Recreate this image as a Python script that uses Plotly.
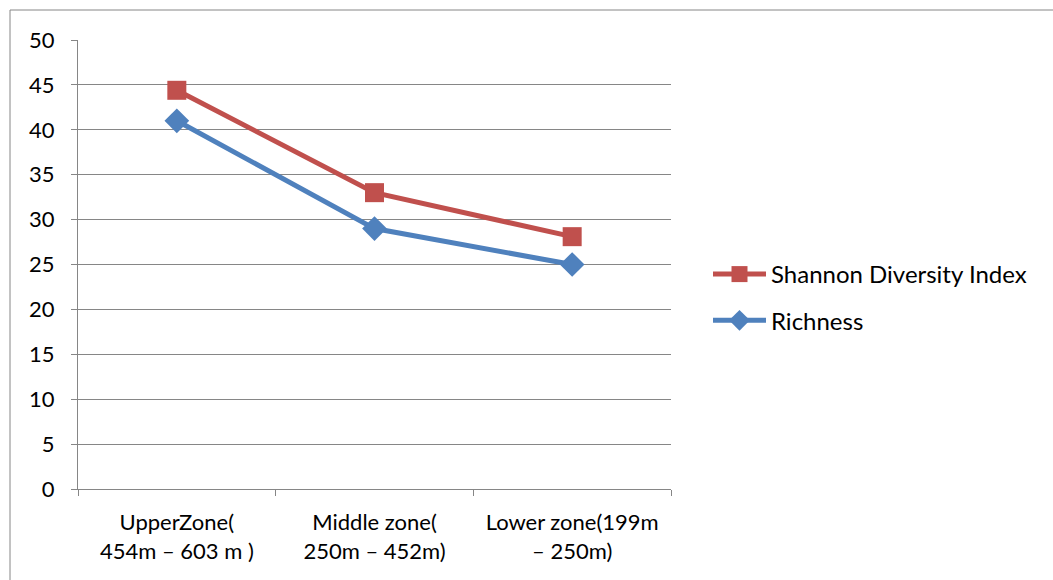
import plotly.graph_objects as go

zones = ["UpperZone(<br>454m – 603 m )", "Middle zone(<br>250m – 452m)", "Lower zone(199m<br>– 250m)"]
shannon = [44.4, 33.0, 28.1]
richness = [41.0, 29.0, 25.0]
y_ticks = [0, 5, 10, 15, 20, 25, 30, 35, 40, 45, 50]

RED = "#C0504D"
BLUE = "#4F81BD"
GRID = "#868686"
FONT = "Lato"

fig = go.Figure()
fig.add_trace(go.Scatter(
    x=zones, y=shannon, name="Shannon Diversity Index", mode="lines+markers",
    line=dict(color=RED, width=5),
    marker=dict(symbol="square", size=19, color=RED),
    legendgroup="a",
))
fig.add_trace(go.Scatter(
    x=zones, y=richness, name="Richness", mode="lines+markers",
    line=dict(color=BLUE, width=5),
    marker=dict(symbol="diamond", size=19, color=BLUE),
    legendgroup="b",
))

W, H = 1053, 580
L, R, T, B = 78, 382, 40, 91
pw, ph = W - L - R, H - T - B

def px_x(p):
    return (p - L) / pw

def px_y(p):
    return (H - B - p) / ph

fig.update_layout(
    width=W, height=H,
    margin=dict(l=L, r=R, t=T, b=B),
    paper_bgcolor="white", plot_bgcolor="white",
    font=dict(family=FONT, size=21, color="#000000"),
    showlegend=True,
    legend=dict(
        x=px_x(708), y=px_y(252), xanchor="left", yanchor="top",
        font=dict(size=24), traceorder="grouped", tracegroupgap=12,
        itemwidth=53, bgcolor="rgba(0,0,0,0)",
    ),
    xaxis=dict(
        type="category", range=[-0.5, 2.5],
        showgrid=False, showline=True, linecolor=GRID, linewidth=1,
        ticks="outside", tickson="boundaries", ticklen=6, tickcolor=GRID,
        ticklabelstandoff=14,
        tickfont=dict(size=22), fixedrange=True,
    ),
    yaxis=dict(
        range=[0, 50], tickvals=y_ticks,
        showgrid=True, gridcolor=GRID, gridwidth=1,
        showline=True, linecolor=GRID, linewidth=1,
        ticks="outside", ticklen=6, tickcolor=GRID,
        ticklabelstandoff=12, zeroline=False,
        tickfont=dict(size=22),
    ),
    shapes=[
        dict(type="line", xref="paper", yref="paper",
             x0=px_x(10), x1=px_x(W), y0=px_y(10), y1=px_y(10),
             line=dict(color=GRID, width=1)),
        dict(type="line", xref="paper", yref="paper",
             x0=px_x(10), x1=px_x(10), y0=px_y(10), y1=px_y(H),
             line=dict(color=GRID, width=1)),
    ],
)

fig.write_html("out.html")
